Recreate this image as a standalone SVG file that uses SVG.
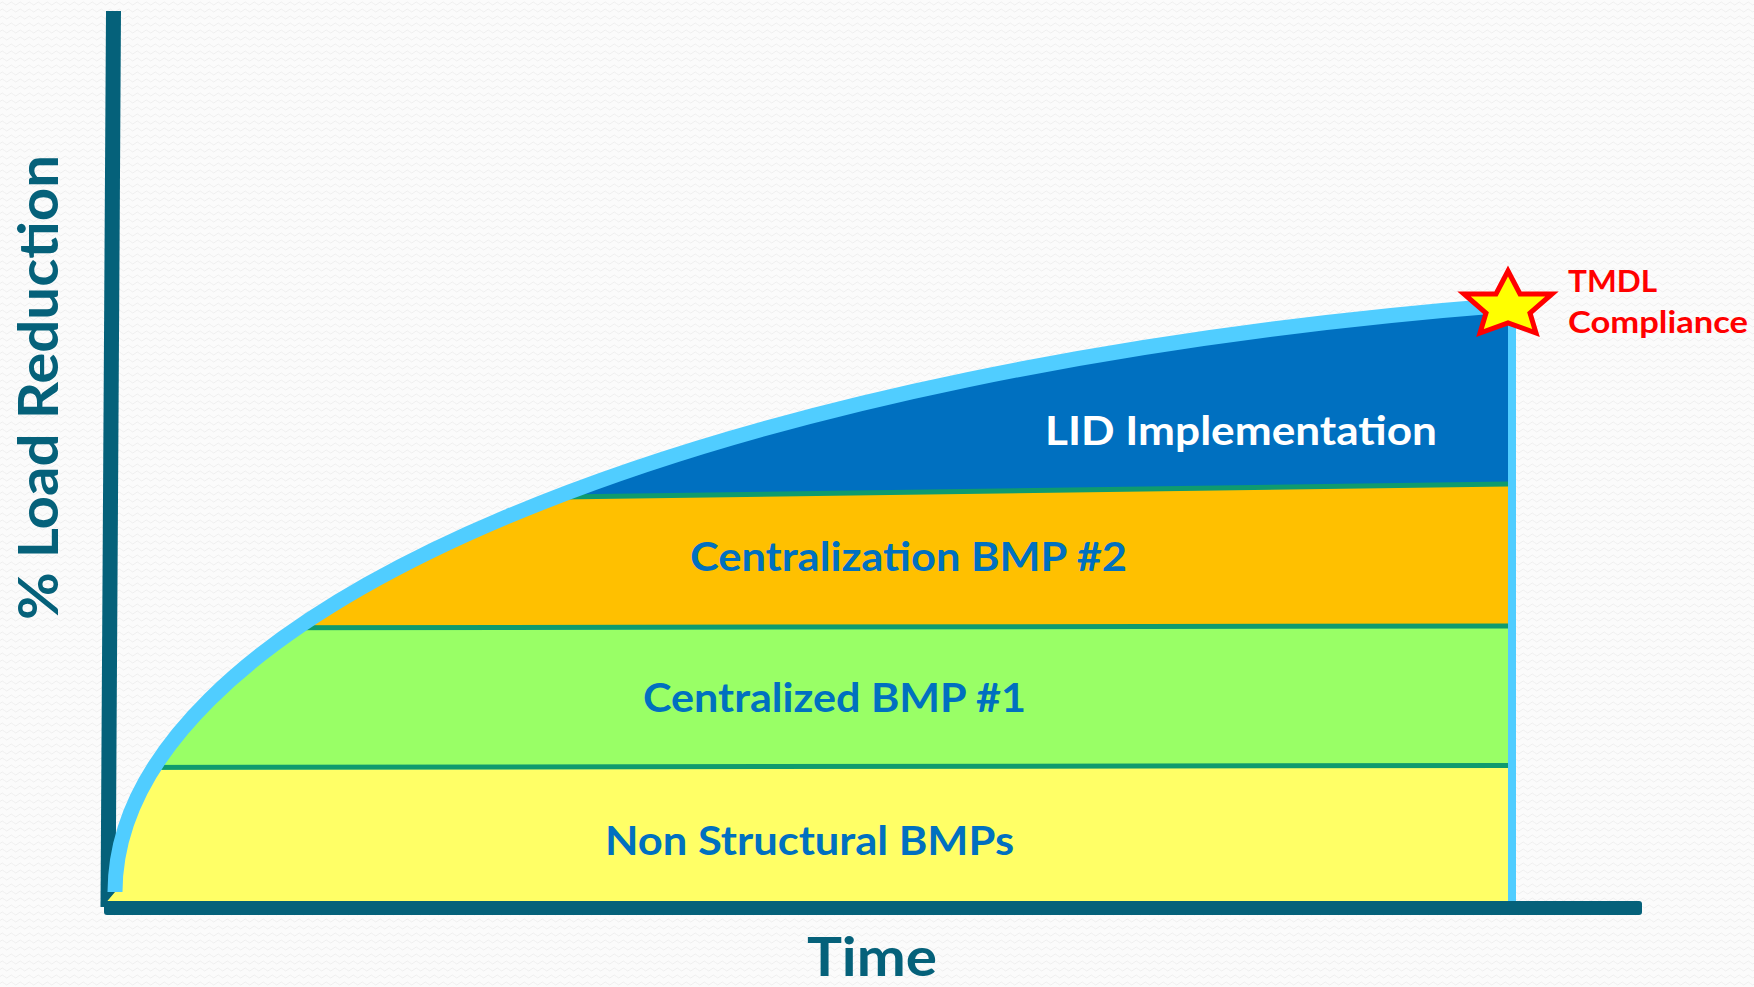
<svg xmlns="http://www.w3.org/2000/svg" width="1754" height="987" viewBox="0 0 1754 987">
  <defs>
    <!-- faint zigzag paper texture -->
    <pattern id="paper" width="9" height="7" patternUnits="userSpaceOnUse">
      <rect width="9" height="7" fill="#fbfbfb"/>
      <path d="M0,3.5 L2.25,2 L4.5,3.5 L6.75,5 L9,3.5" fill="none" stroke="#efefef" stroke-width="1"/>
    </pattern>
    <!-- area under the cumulative reduction curve -->
    <clipPath id="underCurve">
      <path d="M115,892 A1801,603 0 0 1 1508,305 L1508,905 L104,905 Z"/>
    </clipPath>
    <style>
      .label { font-family: Lato, "Open Sans", "Liberation Sans", sans-serif; font-weight: 700; }
      .layerText { font-size: 40px; fill: #0070c0; }
      .axisText { font-size: 55px; fill: #05617a; }
      .divider { stroke: #0f9b6e; stroke-width: 5; fill: none; }
      .axis { stroke: #05617a; stroke-width: 15; fill: none; }
      .envelope { stroke: #50cdff; fill: none; }
    </style>
  </defs>

  <rect width="1754" height="987" fill="url(#paper)"/>

  <!-- vertical axis -->
  <g id="y-axis">
    <line class="axis" x1="113.5" y1="11" x2="108" y2="907"/>
  </g>

  <!-- stacked BMP layers -->
  <g id="layers" clip-path="url(#underCurve)">
    <g id="layer-lid">
      <polygon points="100,250 1520,250 1520,484 560,497 100,497" fill="#0070c0"/>
    </g>
    <g id="layer-bmp2">
      <polygon points="100,497 560,497 1520,484 1520,626 100,628" fill="#ffc000"/>
    </g>
    <g id="layer-bmp1">
      <polygon points="100,628 1520,626 1520,765.5 100,767.5" fill="#99ff66"/>
    </g>
    <g id="layer-nonstructural">
      <polygon points="100,767.5 1520,765.5 1520,905 100,905" fill="#ffff66"/>
    </g>
    <g id="dividers">
      <line class="divider" x1="560" y1="497" x2="1508" y2="484"/>
      <line class="divider" x1="100" y1="628" x2="1508" y2="626"/>
      <line class="divider" x1="100" y1="767.5" x2="1508" y2="765.5"/>
    </g>
  </g>

  <!-- envelope curve and right boundary -->
  <g id="connectors">
    <path class="envelope" stroke-width="15" d="M115,892 A1801,603 0 0 1 1508,305"/>
    <line class="envelope" stroke-width="8" x1="1512" y1="300" x2="1512" y2="901"/>
  </g>

  <!-- horizontal axis -->
  <g id="x-axis">
    <rect x="104" y="901" width="1538" height="14" rx="3" fill="#05617a"/>
  </g>

  <!-- compliance marker -->
  <g id="tmdl-star">
    <polygon points="1508,271 1520,294 1552,294 1530,313 1536,333 1508,323 1480,333 1486,313 1464,294 1496,294"
             fill="#ffff00" stroke="#ff0000" stroke-width="5" stroke-linejoin="miter"/>
  </g>

  <!-- layer labels -->
  <g id="label-lid">
    <text class="label layerText" x="1045" y="445" style="fill:#ffffff" textLength="392" lengthAdjust="spacingAndGlyphs">LID Implementation</text>
  </g>
  <g id="label-bmp2">
    <text class="label layerText" x="690" y="571" textLength="437" lengthAdjust="spacingAndGlyphs">Centralization BMP #2</text>
  </g>
  <g id="label-bmp1">
    <text class="label layerText" x="643" y="711.5" textLength="383" lengthAdjust="spacingAndGlyphs">Centralized BMP #1</text>
  </g>
  <g id="label-nonstructural">
    <text class="label layerText" x="605" y="854.5" textLength="409" lengthAdjust="spacingAndGlyphs">Non Structural BMPs</text>
  </g>

  <g id="label-tmdl">
    <text class="label" x="1568" y="291.5" font-size="31" fill="#ff0000" textLength="89" lengthAdjust="spacingAndGlyphs">TMDL</text>
    <text class="label" x="1568" y="333" font-size="31" fill="#ff0000" textLength="180" lengthAdjust="spacingAndGlyphs">Compliance</text>
  </g>

  <!-- axis titles -->
  <g id="title-y">
    <text class="label axisText" transform="translate(57.5,620) rotate(-90)" x="0" y="0" textLength="465" lengthAdjust="spacingAndGlyphs">% Load Reduction</text>
  </g>
  <g id="title-x">
    <text class="label axisText" x="807" y="976" style="font-size:53px" textLength="130" lengthAdjust="spacingAndGlyphs">Time</text>
  </g>
</svg>
